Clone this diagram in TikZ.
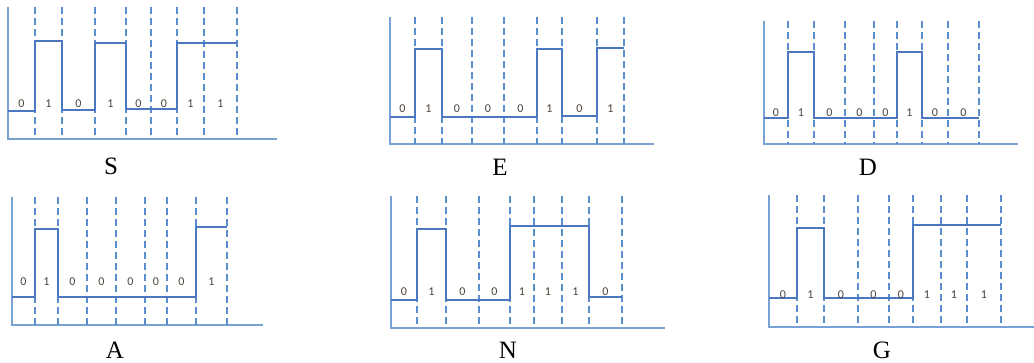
\documentclass[tikz,border=0pt]{standalone}
\usepackage{fontspec}
\setmainfont{Liberation Serif}
\newfontfamily\bitfont{Carlito}

\definecolor{axisblue}{RGB}{120,162,212}
\definecolor{sigblue}{RGB}{75,120,192}
\definecolor{dashblue}{RGB}{90,142,205}
\definecolor{bitgray}{RGB}{75,65,55}

\tikzset{
  axisline/.style={color=axisblue, line width=1.4pt},
  sigline/.style={color=sigblue, line width=1.1pt},
  clockline/.style={color=dashblue, line width=1.1pt, dash pattern=on 7pt off 4pt},
  bit/.style={font=\bitfont\fontsize{12}{13}\selectfont, text=bitgray, inner sep=0pt},
  letter/.style={font=\fontsize{25}{29}\selectfont, inner sep=0pt}
}

\begin{document}
\begin{tikzpicture}[x=1pt, y=-1pt]
      \useasboundingbox (0,0) rectangle (1034,362);

      % S = 01010011
      \draw[axisline] (8,7) -- (8,139) -- (277,139);
      \foreach \x in {35,62,95,126,151,177,204,237}
          \draw[clockline] (\x,7) -- (\x,139);
      \draw[sigline] (8,111) -- (35,111) -- (35,41) -- (62,41) -- (62,110) -- (95,110) -- (95,43)
          -- (126,43) -- (126,109) -- (177,109) -- (177,43) -- (237,43);
      \foreach \a/\b/\v [count=\i] in {8/35/0,35/62/1,62/95/0,95/126/1,126/151/0,151/177/0,177/204/1,204/237/1}
          \node[bit] (bS\i) at ({(\a+\b)/2},104) {\v};
      \node[letter] (lblS) at (111,166) {S};

      % E = 01000101
      \draw[axisline] (390,17) -- (390,144) -- (654,144);
      \foreach \x in {415,442,472,504,537,562,597,624}
          \draw[clockline] (\x,17) -- (\x,144);
      \draw[sigline] (390,117) -- (415,117) -- (415,49) -- (442,49) -- (442,117) -- (537,117)
          -- (537,49) -- (562,49) -- (562,116) -- (597,116) -- (597,48) -- (624,48);
      \foreach \a/\b/\v [count=\i] in {390/415/0,415/442/1,442/472/0,472/504/0,504/537/0,537/562/1,562/597/0,597/624/1}
          \node[bit] (bE\i) at ({(\a+\b)/2},109) {\v};
      \node[letter] (lblE) at (500,167) {E};

      % D = 01000100
      \draw[axisline] (764,21) -- (764,144) -- (1018,144);
      \foreach \x in {788,814,845,874,897,922,948,979}
          \draw[clockline] (\x,21) -- (\x,144);
      \draw[sigline] (764,118) -- (788,118) -- (788,52) -- (814,52) -- (814,118) -- (897,118)
          -- (897,52) -- (922,52) -- (922,118) -- (979,118);
      \foreach \a/\b/\v [count=\i] in {764/788/0,788/814/1,814/845/0,845/874/0,874/897/0,897/922/1,922/948/0,948/979/0}
          \node[bit] (bD\i) at ({(\a+\b)/2},113) {\v};
      \node[letter] (lblD) at (868,167) {D};

      % A = 01000001
      \draw[axisline] (12,197) -- (12,325) -- (263,325);
      \foreach \x in {35,58,87,116,145,167,196,227}
          \draw[clockline] (\x,197) -- (\x,325);
      \draw[sigline] (12,297) -- (35,297) -- (35,229) -- (58,229) -- (58,297) -- (196,297)
          -- (196,227) -- (227,227);
      \foreach \a/\b/\v [count=\i] in {12/35/0,35/58/1,58/87/0,87/116/0,116/145/0,145/167/0,167/196/0,196/227/1}
          \node[bit] (bA\i) at ({(\a+\b)/2},282) {\v};
      \node[letter] (lblA) at (115,350) {A};

      % N = 01001110
      \draw[axisline] (391,196) -- (391,328) -- (665,328);
      \foreach \x in {417,446,479,510,534,562,589,622}
          \draw[clockline] (\x,196) -- (\x,328);
      \draw[sigline] (391,300) -- (417,300) -- (417,229) -- (446,229) -- (446,300) -- (510,300)
          -- (510,226) -- (589,226) -- (589,297) -- (622,297);
      \foreach \a/\b/\v [count=\i] in {391/417/0,417/446/1,446/479/0,479/510/0,510/534/1,534/562/1,562/589/1,589/622/0}
          \node[bit] (bN\i) at ({(\a+\b)/2},292) {\v};
      \node[letter] (lblN) at (508,350) {N};

      % G = 01000111
      \draw[axisline] (769,195) -- (769,327) -- (1034,327);
      \foreach \x in {797,824,858,889,913,941,967,1001}
          \draw[clockline] (\x,195) -- (\x,327);
      \draw[sigline] (769,298) -- (797,298) -- (797,228) -- (824,228) -- (824,298) -- (913,298)
          -- (913,225) -- (1001,225);
      \foreach \a/\b/\v [count=\i] in {769/797/0,797/824/1,824/858/0,858/889/0,889/913/0,913/941/1,941/967/1,967/1001/1}
          \node[bit] (bG\i) at ({(\a+\b)/2},295) {\v};
      \node[letter] (lblG) at (882,350) {G};
    \end{tikzpicture}
\end{document}
